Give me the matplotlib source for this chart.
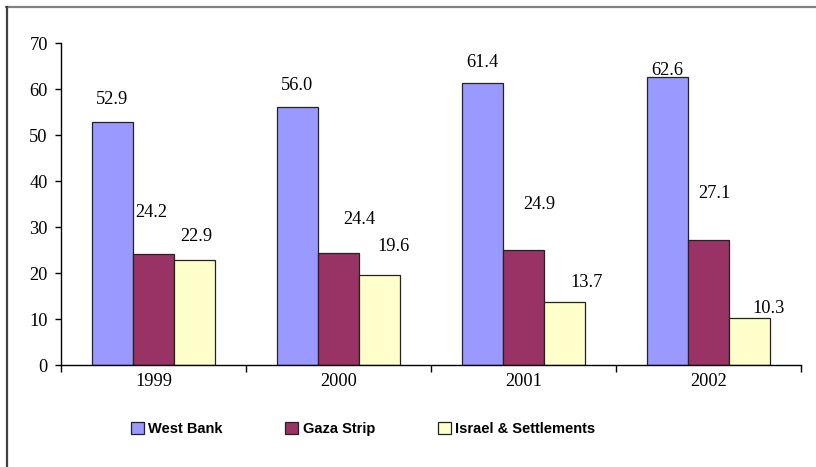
import numpy as np
import matplotlib.pyplot as plt
from matplotlib.lines import Line2D

# Data
years = ['1999', '2000', '2001', '2002']
west_bank = [52.9, 56.0, 61.4, 62.6]
gaza_strip = [24.2, 24.4, 24.9, 27.1]
israel_settlements = [22.9, 19.6, 13.7, 10.3]

series = [('West Bank', west_bank, '#9999FF'),
          ('Gaza Strip', gaza_strip, '#993366'),
          ('Israel & Settlements', israel_settlements, '#FFFFCC')]

# label offsets in pixels (dx, dy), as placed in the original
offsets = [
    [(0, 22), (0, 22), (0, 20), (0, 7)],
    [(-2, 41), (21, 33), (16, 46), (6, 47)],
    [(2, 23), (14, 28), (22, 19), (19, 9)],
]

fig = plt.figure(figsize=(8.16, 4.67), dpi=100)
ax = fig.add_axes([61 / 816, 1 - 365 / 467, 740 / 816, 322 / 467])

x = np.arange(len(years))
w = 0.222
for i, (name, vals, col) in enumerate(series):
    bars = ax.bar(x + (i - 1) * w, vals, w, color=col, edgecolor='#222222',
                  linewidth=0.9, label=name)
    for b, v, (dx, dy) in zip(bars, vals, offsets[i]):
        ax.annotate(f'{v:.1f}', (b.get_x() + b.get_width() / 2, v),
                    xytext=(dx, dy), textcoords='offset pixels',
                    ha='center', va='center', fontsize=13.2,
                    family='Liberation Serif')

ax.set_xlim(-0.5, 3.5)
ax.set_ylim(0, 70)
ax.set_yticks(range(0, 71, 10))
ax.set_yticklabels([str(v) for v in range(0, 71, 10)], family='Liberation Serif', fontsize=13.2)
ax.set_xticks(x)
ax.set_xticklabels(years, family='Liberation Serif', fontsize=13.2)
ax.set_xticks(np.arange(-0.5, 4, 1), minor=True)
ax.tick_params(axis='x', which='major', length=0, pad=6)
ax.tick_params(axis='x', which='minor', length=5, width=1, direction='out')
ax.tick_params(axis='y', length=4.5, width=1, direction='out', pad=5)
for s in ['top', 'right']:
    ax.spines[s].set_visible(False)
for s in ['left', 'bottom']:
    ax.spines[s].set_linewidth(1)

fig.legend(loc='center', bbox_to_anchor=(363 / 816, 1 - 429 / 467), ncol=3,
           frameon=False, prop={'family': 'Liberation Sans', 'weight': 'bold', 'size': 10.5},
           handlelength=0.9, handleheight=0.9, handletextpad=0.3, columnspacing=4.3)

# outer chart frame
fig.add_artist(Line2D([6 / 816, 1], [1 - 6.5 / 467, 1 - 6.5 / 467], color='#808080', lw=1.6))
fig.add_artist(Line2D([6.5 / 816, 6.5 / 816], [0, 1 - 6.5 / 467], color='#404040', lw=1.6))

fig.savefig('out.png', dpi=100)
